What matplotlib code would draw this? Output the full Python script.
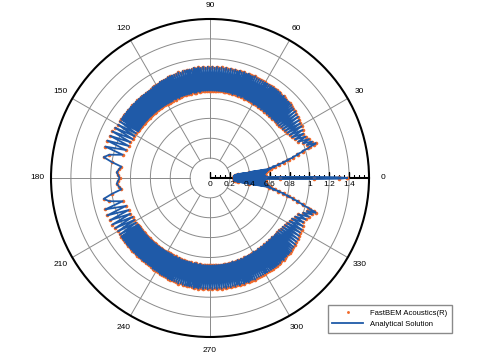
import numpy as np
import matplotlib.pyplot as plt

plt.rcParams['font.family'] = ['Liberation Sans', 'DejaVu Sans']

# upper half of the directivity pattern (0 -> 180 deg)
theta_upper = [
    # forward lobe and shadow fan
    0.0, 0.3, 0.6, 0.9, 1.2, 1.5, 1.8, 2.1, 2.4, 2.7,
    3.0, 3.3, 3.6, 3.9, 4.2, 4.5, 4.8, 5.1, 5.4, 5.7,
    6.0, 6.3, 6.6, 6.9, 7.2, 7.5, 7.8, 8.1, 8.4, 8.8,
    9.3, 9.8, 10.3, 10.8, 11.3, 11.8, 12.3, 12.8, 13.3, 13.8,
    14.3, 14.8, 15.3, 15.8, 16.3, 16.8, 17.3, 17.8, 18.2,
    # side lobes
    18.8, 19.6, 20.5, 21.4, 22.4, 23.4, 24.4, 25.4, 26.4,
    27.4, 28.4, 29.4, 30.3, 31.2, 32.1, 33.0, 33.9, 34.8, 35.6,
    36.4, 37.2, 38.0, 38.8, 39.6,
    # dense ring
    40.2, 40.8, 41.4, 42.0, 42.6, 43.2, 43.8, 44.4, 45.0, 45.6,
    46.2, 46.8, 47.4, 48.0, 48.6, 49.2, 49.8, 50.4, 51.0, 51.6,
    52.2, 52.8, 53.4, 54.0, 54.6, 55.2, 55.8, 56.4, 57.0, 57.6,
    58.2, 58.8, 59.4, 60.0, 60.6, 61.2, 61.8, 62.4, 63.0, 63.6,
    64.2, 64.8, 65.4, 66.0, 66.6, 67.2, 67.8, 68.4, 69.0, 69.6,
    70.2, 70.8, 71.4, 72.0, 72.6, 73.2, 73.8, 74.4, 75.0, 75.6,
    76.2, 76.8, 77.4, 78.0, 78.6, 79.2, 79.8, 80.4, 81.0, 81.6,
    82.2, 82.8, 83.4, 84.0, 84.6, 85.2, 85.8, 86.4, 87.0, 87.6,
    88.2, 88.8, 89.4, 90.0, 90.6, 91.2, 91.8, 92.4, 93.0, 93.6,
    94.2, 94.8, 95.4, 96.0, 96.6, 97.2, 97.8, 98.4, 99.0, 99.6,
    100.2, 100.8, 101.4, 102.0, 102.6, 103.2, 103.8, 104.4, 105.0, 105.6,
    106.2, 106.8, 107.4, 108.0, 108.6, 109.2, 109.8, 110.4, 111.0, 111.6,
    112.2, 112.8, 113.4, 114.0, 114.6, 115.2, 115.8, 116.4, 117.0, 117.6,
    118.2, 118.8, 119.4, 120.0, 120.6, 121.2, 121.8, 122.4, 123.0, 123.6,
    124.2, 124.8, 125.4, 126.0, 126.6, 127.2, 127.8, 128.4, 129.0, 129.6,
    130.2, 130.8, 131.4, 132.0, 132.6, 133.2, 133.8, 134.4, 135.0, 135.6,
    136.2, 136.8, 137.4, 138.0, 138.6, 139.2, 139.8, 140.4, 141.0, 141.6,
    142.2, 142.8, 143.4, 144.0, 144.6, 145.2, 145.8, 146.4, 147.0,
    # back-scatter region
    147.9, 148.9, 149.9, 151.0, 152.1, 153.3, 154.5, 155.8, 157.1, 158.5,
    160.0, 161.6, 163.3, 165.1, 167.0, 168.9, 170.8, 172.7, 174.6, 176.5,
    178.3, 180.0,
]
r_upper = [
    1.38, 1.30, 1.05, 0.70, 0.45, 0.55, 0.25, 0.56, 0.24, 0.55,
    0.24, 0.54, 0.24, 0.55, 0.24, 0.55, 0.24, 0.56, 0.25, 0.56,
    0.25, 0.57, 0.26, 0.58, 0.27, 0.58, 0.28, 0.60, 0.40, 0.62,
    0.60, 0.66, 0.64, 0.71, 0.70, 0.76, 0.75, 0.81, 0.80, 0.86,
    0.86, 0.92, 0.91, 0.97, 0.97, 1.03, 1.05, 1.10, 1.12,
    1.03, 1.09, 1.00, 1.07, 0.96, 1.05, 0.94, 1.04, 0.92,
    1.05, 0.91, 1.06, 0.90, 1.06, 0.89, 1.07, 0.88, 1.08, 0.88,
    1.08, 0.87, 1.09, 0.87, 1.09,
    0.87, 1.09, 0.87, 1.10, 0.87, 1.10, 0.86, 1.10, 0.87, 1.10,
    0.86, 1.10, 0.87, 1.11, 0.86, 1.10, 0.87, 1.11, 0.86, 1.11,
    0.87, 1.11, 0.86, 1.11, 0.87, 1.11, 0.86, 1.11, 0.87, 1.11,
    0.87, 1.11, 0.86, 1.11, 0.87, 1.11, 0.87, 1.11, 0.87, 1.11,
    0.87, 1.11, 0.87, 1.12, 0.87, 1.11, 0.88, 1.11, 0.87, 1.12,
    0.88, 1.11, 0.87, 1.12, 0.88, 1.11, 0.88, 1.12, 0.87, 1.11,
    0.88, 1.12, 0.88, 1.11, 0.88, 1.12, 0.88, 1.11, 0.88, 1.12,
    0.88, 1.11, 0.88, 1.12, 0.88, 1.11, 0.88, 1.12, 0.88, 1.11,
    0.88, 1.12, 0.88, 1.11, 0.88, 1.12, 0.88, 1.11, 0.88, 1.12,
    0.88, 1.11, 0.88, 1.12, 0.87, 1.11, 0.88, 1.12, 0.87, 1.11,
    0.87, 1.11, 0.88, 1.11, 0.87, 1.11, 0.87, 1.11, 0.87, 1.10,
    0.87, 1.11, 0.87, 1.10, 0.87, 1.10, 0.87, 1.10, 0.86, 1.10,
    0.87, 1.10, 0.86, 1.09, 0.87, 1.09, 0.86, 1.09, 0.86, 1.09,
    0.86, 1.08, 0.86, 1.08, 0.86, 1.08, 0.86, 1.08, 0.86, 1.07,
    0.86, 1.07, 0.86, 1.07, 0.86, 1.07, 0.86, 1.07, 0.86, 1.07,
    0.86, 1.07, 0.86, 1.07, 0.86, 1.07, 0.86, 1.07, 0.86, 1.07,
    0.86, 1.07, 0.86, 1.07, 0.86, 1.07, 0.86, 1.07, 0.86, 1.07,
    0.86, 1.07, 0.86, 1.07, 0.86, 1.07, 0.86, 1.07, 0.86,
    1.07, 0.87, 1.07, 0.87, 1.08, 0.87, 1.09, 0.88, 1.09, 0.88,
    1.10, 0.89, 1.10, 0.91, 1.04, 1.09, 1.00, 0.90, 0.92, 0.94,
    0.925, 0.91,
]

# lower half is the mirror image of the upper half
theta_deg = theta_upper + [360 - t for t in theta_upper[-2::-1]]
r_vals = r_upper + r_upper[-2::-1]
theta = np.deg2rad(theta_deg)

r_ticks = [0, 0.2, 0.4, 0.6, 0.8, 1.0, 1.2, 1.4]
r_tick_labels = ['0', '0.2', '0.4', '0.6', '0.8', '1', '1.2', '1.4']
angle_ticks = list(range(0, 360, 30))

blue = '#1f5aa8'
orange = '#f26a2a'
grid_c = '#8a8a8a'

fig = plt.figure(figsize=(4.83, 3.59), dpi=100)
ax = fig.add_axes([0.1056, 0.0613, 0.6584, 0.8858], projection='polar')
ax.set_ylim(0, 1.6)

# grid: circles every 0.2, spokes every 30 deg starting at r = 0.2
circ = np.linspace(0, 2 * np.pi, 400)
for rr in [0.2, 0.4, 0.6, 0.8, 1.0, 1.2, 1.4]:
    ax.plot(circ, np.full_like(circ, rr), color=grid_c, lw=0.7, zorder=1)
for a in angle_ticks[1:]:
    ax.plot([np.deg2rad(a)] * 2, [0.2, 1.6], color=grid_c, lw=0.7, zorder=1)

# radial axis along 0 deg
ax.plot([0, 0], [0, 1.6], color='k', lw=1.5, zorder=2, solid_capstyle='butt')
ax.plot(np.zeros(len(r_ticks)), r_ticks, ls='none', marker=2, ms=4.5,
        mew=1.0, color='k', zorder=2)
minor_r = [m / 100 for m in range(5, 160, 5) if m % 20 != 0]
ax.plot(np.zeros(len(minor_r)), minor_r, ls='none', marker=2, ms=2.0,
        mew=0.8, color='k', zorder=2)
for rv, lab in zip(r_ticks, r_tick_labels):
    ax.annotate(lab, (0, rv), xytext=(0, -2.5), textcoords='offset points',
                ha='center', va='top', fontsize=6, zorder=5)

ax.plot(theta, r_vals, ls='none', marker='o', ms=2.6, mec='none', color=orange,
        label='FastBEM Acoustics(R)', zorder=3)
ax.plot(theta, r_vals, color=blue, lw=1.3, label='Analytical Solution', zorder=4)

ax.set_thetagrids(angle_ticks, [str(a) for a in angle_ticks])
ax.set_xticks(np.deg2rad(np.arange(0, 360, 6)), minor=True)
ax.tick_params(axis='x', which='major', direction='in', length=5, width=1.0,
               pad=3, labelsize=6)
ax.tick_params(axis='x', which='minor', direction='in', length=2.5, width=0.7)
ax.set_yticks([])
ax.grid(False)
ax.spines['polar'].set_linewidth(1.5)
ax.spines['polar'].set_color('k')

fig.legend(loc='upper left', bbox_to_anchor=(0.671, 0.161), fontsize=5.5,
           frameon=True, fancybox=False, edgecolor='#8a8a8a', framealpha=1,
           handlelength=4.0, handletextpad=0.9, borderpad=0.6, labelspacing=0.5,
           markerscale=0.8, numpoints=1)

fig.savefig('out.png', dpi=100)
